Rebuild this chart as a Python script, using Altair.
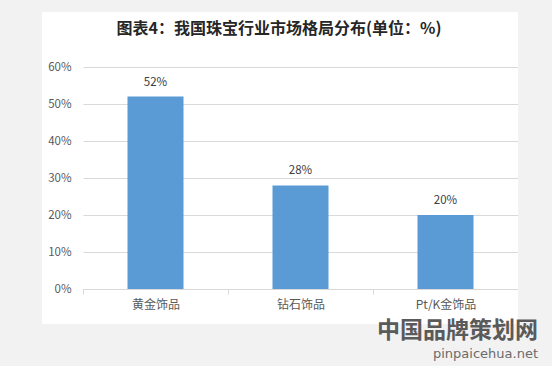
import altair as alt
import pandas as pd

categories = ["黄金饰品", "钻石饰品", "Pt/K金饰品"]
values = [52, 28, 20]
y_ticks = [0, 10, 20, 30, 40, 50, 60]
title_text = "图表4：我国珠宝行业市场格局分布(单位：%)"
brand_text = "中国品牌策划网"
brand_url = "pinpaicehua.net"

FONT = "Noto Sans CJK SC"
df = pd.DataFrame({"cat": categories, "val": values})
one = alt.Data(values=[{}])

x_enc = alt.X("cat:N", sort=categories,
              scale=alt.Scale(paddingInner=0, paddingOuter=0),
              axis=alt.Axis(title=None, labelAngle=0, tickBand="extent",
                            domainColor="#d9d9d9", tickColor="#d9d9d9",
                            tickSize=5, labelPadding=5, labelFontSize=12,
                            labelColor="#595959", labelFont=FONT, grid=False))
y_enc = alt.Y("val:Q", scale=alt.Scale(domain=[0, 60], nice=False),
              axis=alt.Axis(title=None, domain=False, ticks=False, values=y_ticks,
                            tickCount=7, labelOverlap=False,
                            labelExpr="datum.value + '%'", labelPadding=12,
                            gridColor="#d9d9d9", labelColor="#595959",
                            labelFontSize=11.5, labelFont=FONT))

base = alt.Chart(df).transform_calculate(lbl="datum.val + '%'").encode(x=x_enc, y=y_enc)

bars = base.mark_bar(color="#5B9BD5", size=56)
labels = base.mark_text(
    dy=-9, baseline="bottom", fontSize=11.5, color="#404040", font=FONT
).encode(text="lbl:N")

def strip(x, x2, y, y2):
    return alt.Chart(one).mark_rect(color="#f2f2f2").encode(
        x=alt.value(x), x2=alt.value(x2), y=alt.value(y), y2=alt.value(y2))

frames = [
    strip(-83, -41, -67, 299),
    strip(435, 469, -67, 299),
    strip(-83, 469, -67, -55),
    strip(-83, 469, 257, 299),
]

title = alt.Chart(one).mark_text(
    fontSize=16, fontWeight="bold", color="#262626", font=FONT, baseline="middle"
).encode(x=alt.value(196), y=alt.value(-38), text=alt.value(title_text))

brand = alt.Chart(one).mark_text(
    fontSize=23, fontWeight="bold", color="#5a5a5a", font=FONT, baseline="middle", align="right"
).encode(x=alt.value(455), y=alt.value(264), text=alt.value(brand_text))

url = alt.Chart(one).mark_text(
    fontSize=13, color="#6b6b6b", font="DejaVu Sans", baseline="middle", align="right"
).encode(x=alt.value(455), y=alt.value(287), text=alt.value(brand_url))

chart = alt.layer(bars, labels, *frames, title, brand, url).properties(
    width=435, height=222,
    autosize=alt.AutoSizeParams(type="none"),
    padding={"left": 83, "top": 67, "right": 34, "bottom": 77},
    background="white",
).configure_view(stroke=None)

chart.save("out.html", embed_options={"renderer": "svg", "actions": False})
